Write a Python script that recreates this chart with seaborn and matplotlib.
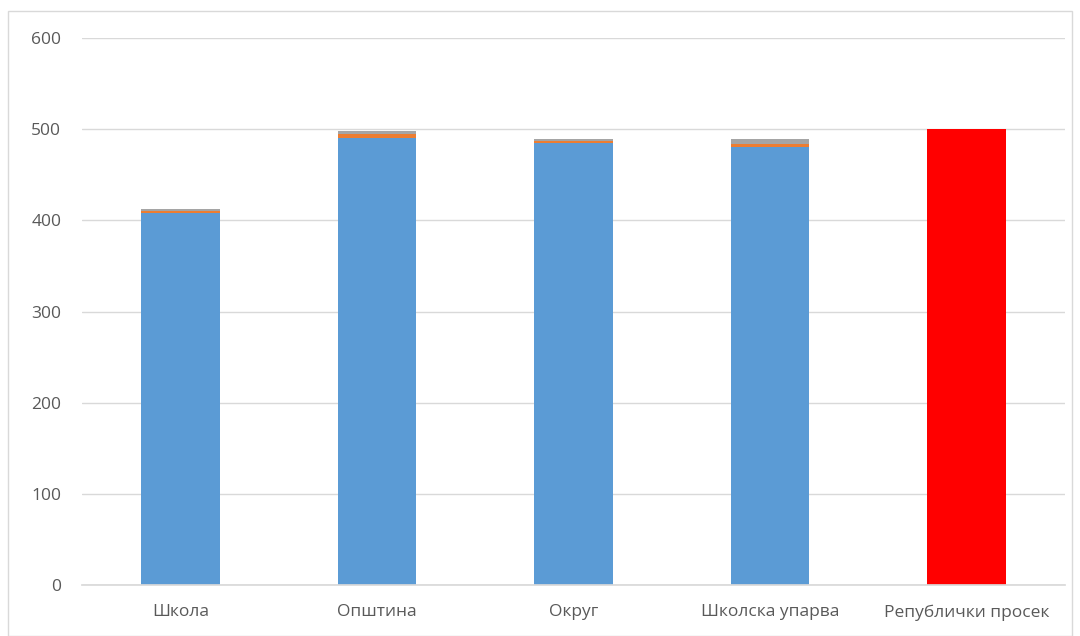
import pandas as pd
import seaborn as sns
import matplotlib.pyplot as plt
from matplotlib.patches import Rectangle

# Values
categories = ["Школа", "Општина", "Округ", "Школска упарва", "Републички просек"]
main_values = [408, 490.5, 484.5, 481, 500]
orange_values = [2.2, 4.6, 2.6, 2.8, 0]
gray_values = [2.2, 3, 2, 5, 0]

bar_colors = ["#5B9BD5", "#5B9BD5", "#5B9BD5", "#5B9BD5", "#FF0000"]

df = pd.DataFrame({"cat": categories, "main": main_values,
                   "orange": orange_values, "gray": gray_values})
df["b2"] = df["main"] + df["orange"]

sns.set_theme(style="white")
plt.rcParams["font.family"] = ["Open Sans", "DejaVu Sans"]

fig = plt.figure(figsize=(10.8, 6.36), dpi=100)
ax = fig.add_axes([0.0759, 0.0802, 0.910, 0.860])

# stacked bars: blue base, orange and gray thin layers on top
sns.barplot(data=df, x="cat", y="main", hue="cat", palette=bar_colors,
            width=0.4, legend=False, saturation=1, linewidth=0, ax=ax)
sns.barplot(data=df, x="cat", y="orange", bottom=df["main"], color="#ED7D31",
            width=0.4, saturation=1, linewidth=0, ax=ax)
sns.barplot(data=df, x="cat", y="gray", bottom=df["b2"], color="#A5A5A5",
            width=0.4, saturation=1, linewidth=0, ax=ax)

ax.set_ylim(0, 600)
ax.set_yticks(range(0, 601, 100))
ax.yaxis.grid(True, color="#D9D9D9", linewidth=1)
ax.set_axisbelow(True)
for s in ["left", "right", "top"]:
    ax.spines[s].set_visible(False)
ax.spines["bottom"].set_color("#D9D9D9")
ax.set_xlabel("")
ax.set_ylabel("")
ax.tick_params(axis="both", length=0, labelsize=12.5, colors="#595959")
ax.tick_params(axis="y", pad=15)
ax.tick_params(axis="x", pad=14)

# outer chart border
fig.patches.append(Rectangle((8 / 1080, 0), 1064 / 1080, 625 / 636,
                             transform=fig.transFigure, fill=False,
                             edgecolor="#D9D9D9", linewidth=1))

fig.savefig("out.png", dpi=100)
